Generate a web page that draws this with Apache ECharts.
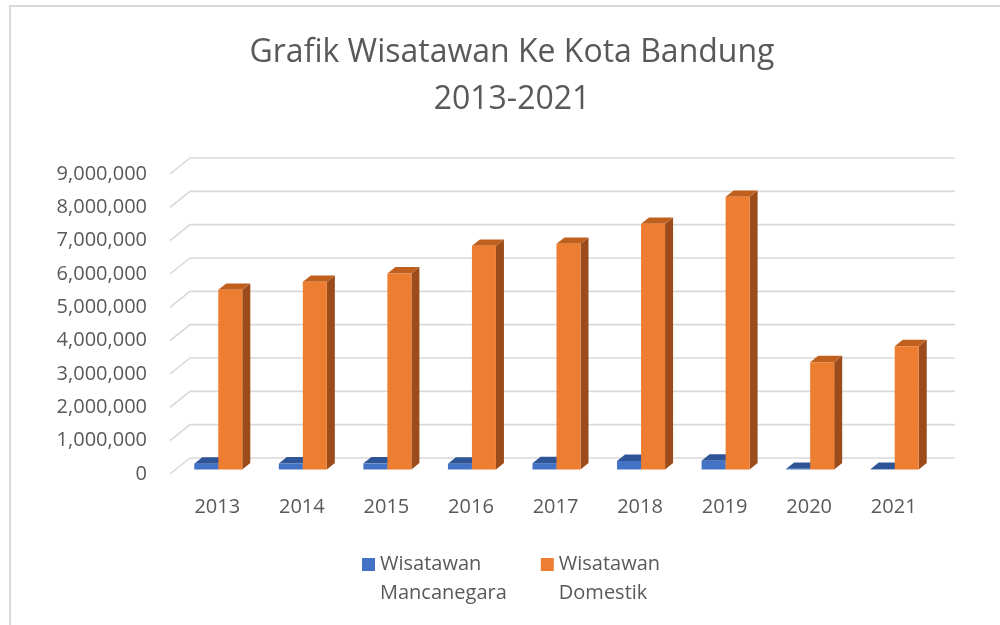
<!DOCTYPE html>
<html>
<head>
<meta charset="utf-8">
<script src="https://cdn.jsdelivr.net/npm/echarts@6/dist/echarts.min.js"></script>
<style>
  html, body { margin: 0; padding: 0; background: #fff; }
  #chart { width: 1000px; height: 625px; }
</style>
</head>
<body>
<div id="chart"></div>
<script>
// data
const years = ["2013", "2014", "2015", "2016", "2017", "2018", "2019", "2020", "2021"];
const mancanegara = [176000, 180000, 184000, 173000, 190000, 255000, 265000, 20000, 15000];
const domestik = [5390000, 5630000, 5880000, 6710000, 6770000, 7370000, 8180000, 3220000, 3700000];
const yTicks = [0, 1000000, 2000000, 3000000, 4000000, 5000000, 6000000, 7000000, 8000000, 9000000];

const seriesNames = ["Wisatawan Mancanegara", "Wisatawan Domestik"];
const textColor = "#595959";
const fontFamily = "'Open Sans', 'Noto Sans', sans-serif";

// face colours: front, top, side
const faces = [
  { front: "#4472C4", top: "#2F5597", side: "#2A4B85" },
  { front: "#ED7D31", top: "#C0601E", side: "#9C4C1B" },
];

// 3d look: back wall is offset from the front plane
const WALL_DX = 20, WALL_DY = -16;
const DEPTH_DX = 8, DEPTH_DY = -6.4;
const PLANE_DX = 1, PLANE_DY = -4.5;

function wallItem(params, api) {
  const cs = params.coordSys;
  const y = api.coord([0, api.value(1)])[1];
  const fx = cs.x - 5;
  return {
    type: "polyline",
    shape: {
      points: [
        [fx, y],
        [fx + WALL_DX, y + WALL_DY],
        [cs.x + cs.width + WALL_DX - 1, y + WALL_DY],
      ],
    },
    style: { stroke: "#D9D9D9", lineWidth: 1.6, fill: null },
    silent: true,
  };
}

function barRenderer(idx) {
  return function (params, api) {
    const top = api.coord([api.value(0), api.value(1)]);
    const base = api.coord([api.value(0), 0]);
    const band = api.size([1, 0])[0];
    const w = band * 0.284;
    const cx = top[0] + PLANE_DX;
    const x0 = idx === 0 ? cx - w : cx;
    const yt = top[1] + PLANE_DY;
    const yb = base[1] + PLANE_DY;
    const c = faces[idx];
    return {
      type: "group",
      children: [
        {
          type: "polygon",
          shape: { points: [[x0 + w, yt], [x0 + w + DEPTH_DX, yt + DEPTH_DY], [x0 + w + DEPTH_DX, yb + DEPTH_DY], [x0 + w, yb]] },
          style: { fill: c.side },
        },
        {
          type: "polygon",
          shape: { points: [[x0, yt], [x0 + w, yt], [x0 + w + DEPTH_DX, yt + DEPTH_DY], [x0 + DEPTH_DX, yt + DEPTH_DY]] },
          style: { fill: c.top },
        },
        {
          type: "rect",
          shape: { x: x0, y: yt, width: w, height: yb - yt },
          style: { fill: c.front },
        },
      ],
    };
  };
}

const chart = echarts.init(document.getElementById("chart"));

chart.setOption({
  backgroundColor: "#fff",
  animation: false,
  title: {
    text: "Grafik Wisatawan Ke Kota Bandung\n2013-2021",
    left: 507,
    top: 24,
    textAlign: "center",
    textStyle: {
      color: textColor,
      fontFamily: fontFamily,
      fontWeight: "normal",
      fontSize: 32,
      lineHeight: 47,
    },
  },
  legend: {
    data: seriesNames,
    left: 357,
    top: 516,
    icon: "rect",
    itemWidth: 13,
    itemHeight: 13,
    itemGap: 34,
    // empty first line keeps the icon level with "Wisatawan"
    formatter: (name) => " \n" + name.replace(" ", "\n"),
    textStyle: {
      color: textColor,
      fontFamily: fontFamily,
      fontSize: 20,
      lineHeight: 29,
    },
  },
  grid: { left: 175, right: 64, top: 174, bottom: 151 },
  xAxis: {
    type: "category",
    data: years,
    axisLine: { show: false },
    axisTick: { show: false },
    axisLabel: { color: textColor, fontFamily: fontFamily, fontSize: 20, margin: 23 },
  },
  yAxis: {
    type: "value",
    min: 0,
    max: 9000000,
    interval: 1000000,
    axisLine: { show: false },
    axisTick: { show: false },
    splitLine: { show: false },
    axisLabel: {
      color: textColor,
      fontFamily: fontFamily,
      fontSize: 20,
      margin: 28,
      formatter: (v) => v.toLocaleString("en-US"),
    },
  },
  graphic: [
    {
      type: "polyline",
      shape: { points: [[10, 625], [10, 6], [1000, 6]] },
      style: { stroke: "#D9D9D9", lineWidth: 2, fill: null },
      silent: true,
    },
  ],
  series: [
    {
      name: "walls",
      type: "custom",
      renderItem: wallItem,
      data: yTicks.map((v) => [0, v]),
      silent: true,
      z: 1,
    },
    {
      name: seriesNames[0],
      type: "custom",
      renderItem: barRenderer(0),
      itemStyle: { color: faces[0].front },
      data: mancanegara.map((v, i) => [i, v]),
      z: 2,
    },
    {
      name: seriesNames[1],
      type: "custom",
      renderItem: barRenderer(1),
      itemStyle: { color: faces[1].front },
      data: domestik.map((v, i) => [i, v]),
      z: 2,
    },
  ],
});
</script>
</body>
</html>
